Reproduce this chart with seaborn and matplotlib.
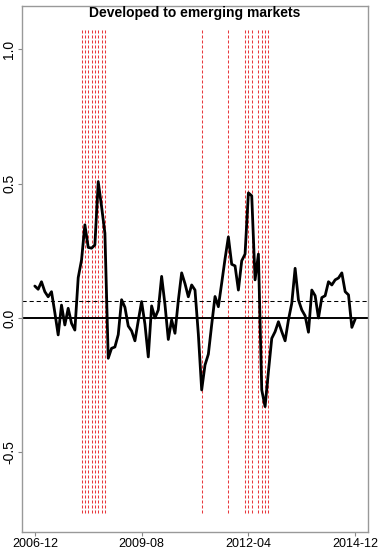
import matplotlib
matplotlib.use("Agg")
import matplotlib.pyplot as plt
import numpy as np
import pandas as pd
import seaborn as sns

# monthly series, 2006-12 .. 2014-12
months = pd.period_range("2006-12", "2014-12", freq="M").strftime("%Y-%m").tolist()
spillover = [
    0.119, 0.107, 0.135, 0.098, 0.079, 0.098, 0.020, -0.063, 0.048, -0.026,
    0.036, -0.020, -0.045, 0.150, 0.216, 0.347, 0.263, 0.260, 0.272, 0.508,
    0.415, 0.316, -0.150, -0.113, -0.108, -0.062, 0.068, 0.040, -0.030, -0.048,
    -0.085, -0.010, 0.061, -0.023, -0.145, 0.045, 0.000, 0.030, 0.155, 0.050,
    -0.080, -0.007, -0.057, 0.065, 0.168, 0.128, 0.079, 0.123, 0.104, -0.060,
    -0.268, -0.175, -0.135, -0.025, 0.080, 0.042, 0.130, 0.220, 0.302, 0.200,
    0.194, 0.104, 0.213, 0.238, 0.466, 0.455, 0.142, 0.238, -0.268, -0.330,
    -0.200, -0.076, -0.051, -0.014, -0.051, -0.085, -0.007, 0.055, 0.185, 0.067,
    0.030, 0.008, -0.053, 0.104, 0.083, 0.000, 0.076, 0.083, 0.135, 0.123,
    0.142, 0.149, 0.168, 0.098, 0.086, -0.035, -0.004,
]
mean_level = 0.063
crisis_months = [
    "2008-02", "2008-03", "2008-04", "2008-05", "2008-06", "2008-07", "2008-08", "2008-09",
    "2011-02", "2011-10",
    "2012-03", "2012-04", "2012-05",
    "2012-07", "2012-08", "2012-09", "2012-10",
]
tick_labels = ["2006-12", "2009-08", "2012-04", "2014-12"]
y_ticks = [-0.5, 0.0, 0.5, 1.0]
crisis_span = (-0.727, 1.073)

df = pd.DataFrame({"month": months, "value": spillover})
df["pos"] = np.arange(len(df))
pos_of = dict(zip(df["month"], df["pos"]))

sns.set_style("white")
plt.rcParams["font.family"] = ["Liberation Sans", "DejaVu Sans"]
plt.rcParams["text.color"] = "black"
plt.rcParams["xtick.labelcolor"] = "black"
plt.rcParams["ytick.labelcolor"] = "black"

fig = plt.figure(figsize=(3.8, 5.49), dpi=100)
ax = fig.add_axes([22 / 380, 1 - 531.7 / 549, 346 / 380, 525.7 / 549])

# crisis months
ax.vlines([pos_of[m] for m in crisis_months], crisis_span[0], crisis_span[1],
          colors="#e8383d", linewidth=0.75, linestyles=(0, (2.9, 1.9)), zorder=1)
ax.axhline(0, color="black", linewidth=1.4, zorder=2)
ax.axhline(mean_level, color="black", linewidth=0.75, linestyle=(0, (4, 2.8)), zorder=2)

sns.lineplot(data=df, x="pos", y="value", color="black", linewidth=2.0, ax=ax, zorder=3)

n = len(df) - 1
ax.set_xlim(-0.04 * n, n * 1.04)
ax.set_ylim(-0.796, 1.162)
ax.set_xticks([pos_of[t] for t in tick_labels])
ax.set_xticklabels(tick_labels, fontsize=9, color="black")
ax.set_yticks(y_ticks)
ax.set_yticklabels([f"{v:.1f}" for v in y_ticks], fontsize=10, rotation=90,
                   va="center", color="black")
ax.tick_params(axis="both", which="major", length=3, width=0.8, color="#888888",
               direction="out", bottom=True, left=True, pad=1.2)
ax.set_xlabel("")
ax.set_ylabel("")
for s in ax.spines.values():
    s.set_color("#999999")
    s.set_linewidth(1.0)

fig.text(195 / 380, 1 - 13 / 549, "Developed to emerging markets",
         ha="center", va="center", fontsize=10, fontweight="bold", color="black")

fig.savefig("out.png", dpi=100)
